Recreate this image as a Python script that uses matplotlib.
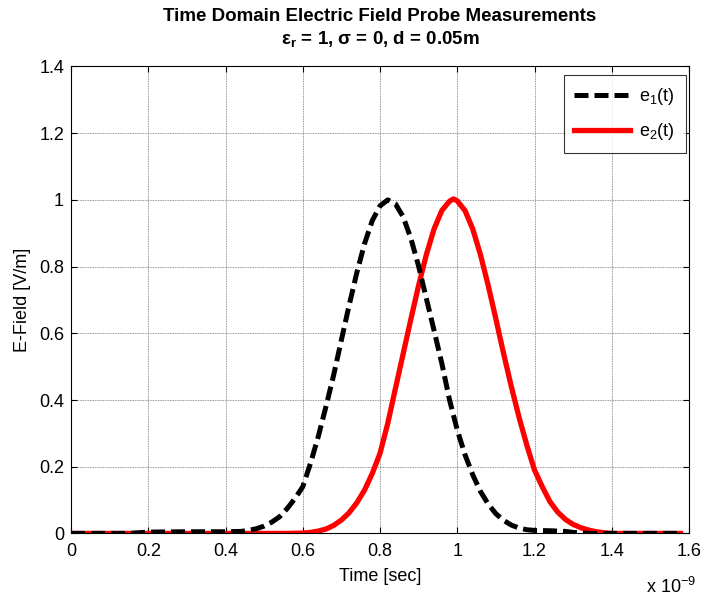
import matplotlib
matplotlib.use("Agg")
import matplotlib.pyplot as plt

plt.rcParams['font.family'] = ['Liberation Sans', 'DejaVu Sans']
plt.rcParams['mathtext.fontset'] = 'custom'
plt.rcParams['mathtext.rm'] = 'Liberation Sans'
plt.rcParams['mathtext.it'] = 'Liberation Sans'
plt.rcParams['mathtext.bf'] = 'Liberation Sans:bold'

# Time values in units of 1e-9 s
t1 = [0.0, 0.15, 0.2, 0.3, 0.4, 0.44, 0.46, 0.48, 0.50, 0.52, 0.54, 0.56, 0.58, 0.60,
      0.62, 0.64, 0.66, 0.68, 0.70, 0.72, 0.74, 0.76, 0.78, 0.80, 0.82, 0.84, 0.86,
      0.88, 0.90, 0.92, 0.94, 0.96, 0.98, 1.00, 1.02, 1.04, 1.06, 1.08, 1.10, 1.12,
      1.14, 1.16, 1.18, 1.20, 1.24, 1.28, 1.30, 1.34, 1.45, 1.58]
e1 = [0.0, 0.0, 0.004, 0.005, 0.005, 0.006, 0.009, 0.014, 0.022, 0.034, 0.050, 0.075, 0.105, 0.14,
      0.21, 0.29, 0.38, 0.475, 0.58, 0.684, 0.782, 0.869, 0.938, 0.982, 1.0, 0.988, 0.949,
      0.884, 0.801, 0.704, 0.608, 0.51, 0.40, 0.31, 0.236, 0.176, 0.126, 0.088, 0.059, 0.039,
      0.025, 0.016, 0.011, 0.009, 0.008, 0.006, 0.003, 0.0, 0.0, 0.0]

t2 = [0.0, 0.56, 0.60, 0.62, 0.64, 0.66, 0.68, 0.70, 0.72, 0.74, 0.76, 0.78, 0.80, 0.82,
      0.84, 0.86, 0.88, 0.90, 0.92, 0.94, 0.96, 0.98, 0.99, 1.00, 1.02, 1.04, 1.06,
      1.08, 1.10, 1.12, 1.14, 1.16, 1.18, 1.20, 1.22, 1.24, 1.26, 1.28, 1.30, 1.32,
      1.34, 1.36, 1.38, 1.40, 1.578]
e2 = [0.0, 0.0, 0.001, 0.003, 0.007, 0.013, 0.024, 0.040, 0.062, 0.092, 0.13, 0.18, 0.24, 0.33,
      0.435, 0.539, 0.643, 0.744, 0.836, 0.913, 0.968, 0.996, 1.003, 0.997, 0.968, 0.913, 0.836,
      0.744, 0.643, 0.539, 0.440, 0.348, 0.265, 0.19, 0.14, 0.095, 0.064, 0.042, 0.027, 0.017,
      0.010, 0.005, 0.002, 0.0, 0.0]

xticks = [0, 0.2, 0.4, 0.6, 0.8, 1.0, 1.2, 1.4, 1.6]
yticks = [0, 0.2, 0.4, 0.6, 0.8, 1.0, 1.2, 1.4]

fig = plt.figure(figsize=(7.04, 5.99), dpi=100)
ax = fig.add_axes([0.1009, 0.1095, 0.8778, 0.7795])

ax.plot(t1, e1, color='black', linewidth=3.6, linestyle=(0, (2.8, 1.2)),
        dash_capstyle='butt', label='e$_1$(t)', zorder=3)
ax.plot(t2, e2, color='red', linewidth=3.8, label='e$_2$(t)', zorder=2)

ax.set_xlim(0, 1.6)
ax.set_ylim(0, 1.4)
ax.set_xticks(xticks)
ax.set_yticks(yticks)
ax.set_xticklabels(['%g' % v for v in xticks])
ax.set_yticklabels(['%g' % v for v in yticks])
ax.tick_params(direction='in', length=4, width=0.8, labelsize=13)
ax.tick_params(axis='x', pad=7)
ax.tick_params(axis='y', pad=5)
ax.tick_params(top=True, right=True)
for s in ax.spines.values():
    s.set_linewidth(0.8)
ax.grid(True, color=(0.45, 0.45, 0.45), linewidth=0.6, linestyle=(0, (1, 1)))
ax.set_axisbelow(True)

ax.set_xlabel('Time [sec]', fontsize=13, labelpad=6)
ax.set_ylabel('E-Field [V/m]', fontsize=13, labelpad=6)
ax.set_title('Time Domain Electric Field Probe Measurements\n'
             'ε$_{\\mathbf{r}}$ = 1, σ = 0, d = 0.05m',
             fontsize=13.5, fontweight='bold', pad=16, linespacing=1.3)

fig.text(0.953, 0.004, 'x 10$^{-9}$', fontsize=13, ha='center', va='bottom')

leg = ax.legend(loc='upper right', fontsize=13, handlelength=3.1, frameon=True,
                fancybox=False, edgecolor='black', borderpad=0.6, labelspacing=0.8,
                handletextpad=0.5, borderaxespad=0.0, bbox_to_anchor=(0.995, 0.9816))
leg.get_frame().set_linewidth(0.8)

fig.savefig('out.png', dpi=100)
